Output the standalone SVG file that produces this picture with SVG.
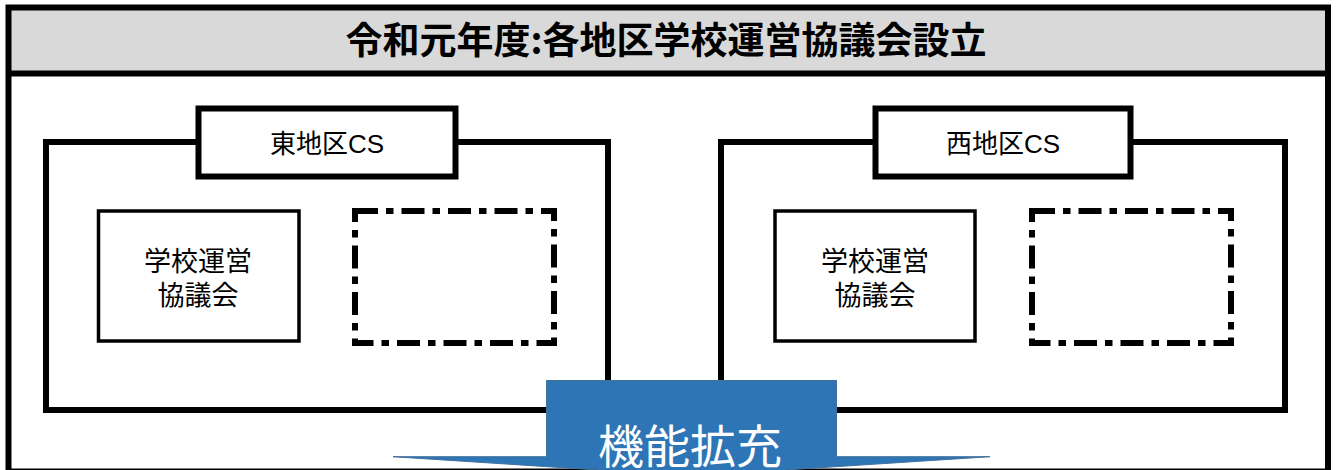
<svg xmlns="http://www.w3.org/2000/svg" width="1336" height="470" viewBox="0 0 1336 470">
  <style>
    .frame { fill: none; stroke: #000; stroke-width: 6; }
    .box { fill: #fff; stroke: #000; stroke-width: 6; }
    .inner { fill: #fff; stroke: #000; stroke-width: 3.5; }
    .dash { fill: none; stroke: #000; stroke-width: 6; stroke-dasharray: 23 8 7.5 8; }
    .t { font-family: "Liberation Sans", "Noto Sans CJK JP", sans-serif; fill: #000; text-anchor: middle; }
    .title { font-family: "Noto Sans CJK JP", sans-serif; font-weight: 700; font-size: 37px; }
    .label { font-size: 26px; }
    .body { font-family: "Noto Sans CJK JP", sans-serif; font-size: 27px; }
    .arrowtxt { font-family: "Noto Sans CJK JP", sans-serif; font-size: 46px; fill: #fff; text-anchor: middle; }
  </style>
  <rect x="0" y="0" width="1336" height="470" fill="#fff"/>
  <g id="header">
    <rect x="8.5" y="7.5" width="1319.5" height="66" fill="#d9d9d9"/>
    <line x1="8.5" y1="73.5" x2="1328" y2="73.5" stroke="#000" stroke-width="6"/>
    <text class="t title" x="666" y="54">令和元年度:各地区学校運営協議会設立</text>
  </g>
  <rect id="outer-frame" class="frame" x="8.5" y="7.5" width="1319.5" height="464"/>

  <g id="east-cs">
    <rect class="box" x="46" y="142" width="562" height="268"/>
    <rect class="box" x="198.5" y="108.5" width="257" height="68"/>
    <text class="t label" x="327" y="153">東地区CS</text>
  </g>
  <g id="east-council">
    <rect class="inner" x="98.5" y="211" width="200.5" height="130"/>
    <text class="t body" x="198" y="271">学校運営</text>
    <text class="t body" x="198" y="305">協議会</text>
  </g>
  <g id="east-empty">
    <rect class="dash" x="355" y="211" width="199" height="132"/>
  </g>

  <g id="west-cs">
    <rect class="box" x="721" y="142" width="564" height="268"/>
    <rect class="box" x="875.5" y="108.5" width="255" height="68"/>
    <text class="t label" x="1003" y="153">西地区CS</text>
  </g>
  <g id="west-council">
    <rect class="inner" x="775" y="211" width="200" height="130"/>
    <text class="t body" x="875" y="271">学校運営</text>
    <text class="t body" x="875" y="305">協議会</text>
  </g>
  <g id="west-empty">
    <rect class="dash" x="1032" y="211" width="199" height="132"/>
  </g>

  <g id="connectors">
    <g id="expand-arrow">
      <path d="M546.5 380.5 H836.5 V456.7 H990 L691.5 476 L393 456.7 H546.5 Z" fill="#2e75b6" stroke="#41719c" stroke-width="1"/>
      <text class="arrowtxt" x="690" y="463">機能拡充</text>
    </g>
  </g>
</svg>
